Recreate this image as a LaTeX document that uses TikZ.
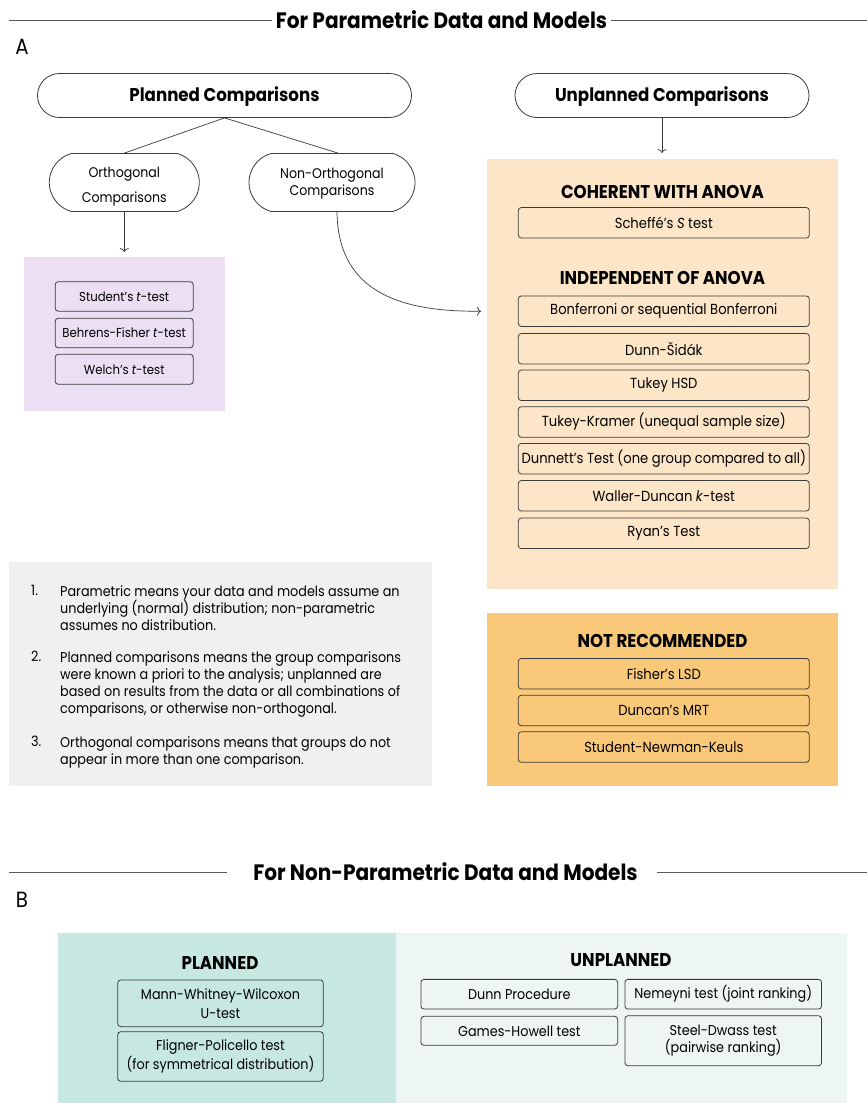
\documentclass[tikz,border=0pt]{standalone}
\usepackage{fontspec}
\setmainfont{Poppins}[FakeStretch=0.9]
\usetikzlibrary{shapes.misc,arrows.meta}
\definecolor{lav}{HTML}{ECDFF3}
\definecolor{lorange}{HTML}{FDE6C7}
\definecolor{dorange}{HTML}{F9C879}
\definecolor{notegrey}{HTML}{F0F0F0}
\definecolor{tealA}{HTML}{C7E8E0}
\definecolor{tealB}{HTML}{EDF6F4}
\definecolor{edge}{HTML}{3A3A3A}
\definecolor{rulec}{HTML}{5A5A5A}
\begin{document}
\begin{tikzpicture}[x=1pt,y=-1pt,
  pill/.style={draw=edge, line width=0.8pt, rounded rectangle, fill=white, inner sep=0pt, align=center},
  tbox/.style={draw=edge, line width=0.8pt, rounded corners=3pt, inner sep=0pt, align=center, font=\fontsize{14.6}{18}\selectfont},
  sbox/.style={tbox, font=\fontsize{13}{16}\selectfont},
  bbox/.style={tbox, font=\fontsize{14.2}{19}\selectfont},
  wide/.style={minimum width=291pt, minimum height=30.5pt},
  panel/.style={anchor=north west, inner sep=0pt, outer sep=0pt, draw=none},
  head/.style={font=\fontsize{18.5}{22}\selectfont\bfseries},
  title/.style={font=\fontsize{22.3}{26}\selectfont\bfseries},
  letter/.style={font=\fontsize{22}{26}\selectfont},
  note/.style={anchor=north west, inner sep=0pt, align=left, font=\fontsize{14.2}{17.3}\selectfont},
  conn/.style={draw=edge, line width=0.7pt},
  arr/.style={conn, -{To[length=4pt,width=9pt]}},
  rulel/.style={draw=rulec, line width=0.9pt},
]
\useasboundingbox (0,0) rectangle (867,1103);

% ---------- Section A ----------
\node[title] (t1) at (441.5,20) {For Parametric Data and Models};
\coordinate (l1) at (9,20);
\coordinate (l2) at (867,20);
\draw[rulel] (l1) -- (t1);
\draw[rulel] (t1) -- (l2);
\node[letter] (A) at (22,47) {A};

\node[pill, minimum width=374pt, minimum height=44pt, font=\fontsize{18.5}{22}\selectfont\bfseries] (planned) at (224.5,95.5) {\rule{0pt}{17pt}Planned Comparisons};
\node[pill, minimum width=294pt, minimum height=44pt, font=\fontsize{18.5}{22}\selectfont\bfseries] (unplanned) at (662,95.5) {\rule{0pt}{17pt}Unplanned Comparisons};
\node[pill, rounded rectangle arc length=150, minimum width=150pt, minimum height=58pt, font=\fontsize{14}{17}\selectfont] (orth) at (124.3,182.5) {\rule{0pt}{18.5pt}Orthogonal\\[8pt]Comparisons};
\node[pill, rounded rectangle arc length=150, minimum width=166pt, minimum height=58pt, font=\fontsize{14}{17}\selectfont] (nonorth) at (332,182.5) {\rule{0pt}{13pt}Non-Orthogonal\\Comparisons};

\draw[conn] (planned.south) -- (orth.north);
\draw[conn] (planned.south) -- ([xshift=6pt]nonorth.north);

% planned panel
\node[panel, fill=lav, minimum width=201pt, minimum height=154pt] (opanel) at (24,257) {};
\draw[arr, shorten >=5pt] (orth.south) -- (orth.south |- opanel.north);
\node[sbox, minimum width=138pt, minimum height=29.5pt] (student) at (124.2,296.4) {Student's \textit{t}-test};
\node[sbox, minimum width=138pt, minimum height=29.5pt] (behrens) at (124.2,333) {Behrens-Fisher \textit{t}-test};
\node[sbox, minimum width=138pt, minimum height=30pt] (welch) at (124.2,369.3) {Welch's \textit{t}-test};

% unplanned panel
\node[panel, fill=lorange, minimum width=351pt, minimum height=430pt] (upanel) at (487,159) {};
\draw[arr, shorten >=6pt] (unplanned.south) -- (unplanned.south |- upanel.north);
\node[head] (coh) at (662.5,191.5) {COHERENT WITH ANOVA};
\node[tbox, wide] (scheffe) at (663.8,222.8) {Scheffé's \textit{S} test};
\node[head] (ind) at (662.5,277.7) {INDEPENDENT OF ANOVA};
\node[tbox, wide] (bonf) at (663.8,311.2) {Bonferroni or sequential Bonferroni};
\node[tbox, wide] (sidak) at (663.8,348.8) {Dunn-Šidák};
\node[tbox, wide] (hsd) at (663.8,385.3) {Tukey HSD};
\node[tbox, wide] (kramer) at (663.8,422) {Tukey-Kramer (unequal sample size)};
\node[tbox, wide] (dunnett) at (663.8,458.7) {Dunnett's Test (one group compared to all)};
\node[tbox, wide] (waller) at (663.8,495.8) {Waller-Duncan \textit{k}-test};
\node[tbox, wide] (ryan) at (663.8,533.3) {Ryan's Test};

\draw[arr] ([xshift=5pt]nonorth.south) .. controls (338,292) and (400,312) .. ([xshift=-6pt]upanel.west |- bonf.center);

% notes
\node[panel, fill=notegrey, minimum width=423pt, minimum height=224pt] (notes) at (9,562) {};
\node[note] (n1) at (31,585) {1.};
\node[note] (m1) at (60,585) {Parametric means your data and models assume an\\underlying (normal) distribution; non-parametric\\assumes no distribution.};
\node[note] (n2) at (31,651) {2.};
\node[note] (m2) at (60,651) {Planned comparisons means the group comparisons\\were known a priori to the analysis; unplanned are\\based on results from the data or all combinations of\\comparisons, or otherwise non-orthogonal.};
\node[note] (n3) at (31,736) {3.};
\node[note] (m3) at (60,736) {Orthogonal comparisons means that groups do not\\appear in more than one comparison.};

% not recommended
\node[panel, fill=dorange, minimum width=351pt, minimum height=173pt] (nrpanel) at (487,613) {};
\node[head] (nr) at (662.5,640.5) {NOT RECOMMENDED};
\node[tbox, wide] (fisher) at (663.8,673.7) {Fisher's LSD};
\node[tbox, wide] (duncan) at (663.8,710.5) {Duncan's MRT};
\node[tbox, wide] (snk) at (663.8,747) {Student-Newman-Keuls};

% ---------- Section B ----------
\node[title] (t2) at (445.5,872) {For Non-Parametric Data and Models};
\coordinate (l3) at (9,872);
\coordinate (l4) at (226.5,872);
\coordinate (l5) at (657,872);
\coordinate (l6) at (867,872);
\draw[rulel] (l3) -- (l4);
\draw[rulel] (l5) -- (l6);
\node[letter] (B) at (22,900) {B};

\node[panel, fill=tealA, minimum width=338pt, minimum height=170pt] (ppanel) at (58,933) {};
\node[panel, fill=tealB, minimum width=451pt, minimum height=170pt] (upanel2) at (396,933) {};
\node[head] (pl) at (220,963.3) {PLANNED};
\node[head] (upl) at (621,960) {UNPLANNED};
\node[bbox, minimum width=205.5pt, minimum height=46.7pt] (mww) at (220.5,1003.3) {Mann-Whitney-Wilcoxon\\U-test};
\node[bbox, minimum width=205.5pt, minimum height=49.6pt] (fligner) at (220.5,1056.5) {Fligner-Policello test\\(for symmetrical distribution)};
\node[bbox, minimum width=196.7pt, minimum height=29.7pt] (dunnp) at (519.3,994.2) {Dunn Procedure};
\node[bbox, minimum width=196.7pt, minimum height=29pt] (games) at (519.3,1030.8) {Games-Howell test};
\node[bbox, minimum width=196.6pt, minimum height=29.7pt] (nem) at (723.2,994.2) {Nemeyni test (joint ranking)};
\node[bbox, minimum width=196.6pt, minimum height=50pt, font=\fontsize{14.2}{17.7}\selectfont] (steel) at (723.2,1040.7) {Steel-Dwass test\\(pairwise ranking)};
\end{tikzpicture}
\end{document}
